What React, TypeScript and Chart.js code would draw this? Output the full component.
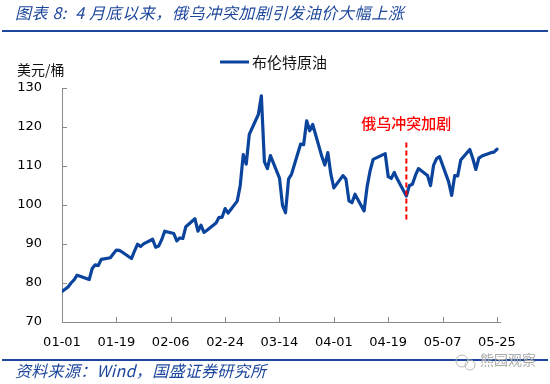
import React, { useEffect, useRef } from "react";
import { Chart, registerables } from "chart.js";

Chart.register(...registerables);

const YEAR = 2022;
const dates: string[] = [
  "01-01","01-03","01-04","01-05","01-06","01-07","01-10","01-11","01-12","01-13","01-14",
  "01-17","01-18","01-19","01-20","01-21","01-24","01-25","01-26","01-27","01-28","01-31",
  "02-01","02-02","02-03","02-04","02-07","02-08","02-09","02-10","02-11","02-14","02-15",
  "02-16","02-17","02-18","02-21","02-22","02-23","02-24","02-25","02-28","03-01","03-02",
  "03-03","03-04","03-07","03-08","03-09","03-10","03-11","03-14","03-15","03-16","03-17",
  "03-18","03-21","03-22","03-23","03-24","03-25","03-28","03-29","03-30","03-31","04-01",
  "04-04","04-05","04-06","04-07","04-08","04-11","04-12","04-13","04-14","04-18","04-19",
  "04-20","04-21","04-22","04-25","04-26","04-27","04-28","04-29","05-02","05-03","05-04",
  "05-05","05-06","05-09","05-10","05-11","05-12","05-13","05-16","05-17","05-18","05-19",
  "05-20","05-23","05-24","05-25",
];
const brent: number[] = [
  77.8, 78.98, 80.0, 80.8, 81.99, 81.75, 80.87, 83.72, 84.67, 84.47, 86.06,
  86.48, 87.51, 88.44, 88.38, 87.89, 86.27, 88.2, 89.96, 89.34, 90.03, 91.21,
  89.16, 89.47, 91.11, 93.27, 92.69, 90.78, 91.55, 91.41, 94.44, 96.48, 93.28,
  94.81, 92.97, 93.54, 95.39, 96.84, 96.84, 99.08, 97.93, 100.99, 104.97, 112.93,
  110.46, 118.11, 123.21, 127.98, 111.14, 109.33, 112.67, 106.9, 99.91, 98.02, 106.64,
  107.93, 115.62, 115.48, 121.6, 119.03, 120.65, 112.48, 110.23, 113.45, 107.91, 104.39,
  107.53, 106.64, 101.07, 100.58, 102.78, 98.48, 104.64, 108.78, 111.7, 113.16, 107.25,
  106.8, 108.33, 106.65, 102.32, 104.99, 105.32, 107.59, 109.34, 107.58, 104.97, 110.14,
  111.9, 112.39, 105.94, 102.46, 107.51, 107.45, 111.55, 114.24, 111.93, 109.11, 112.04,
  112.55, 113.42, 113.56, 114.3,
];
const xTickLabels: string[] = ["01-01","01-19","02-06","02-24","03-14","04-01","04-19","05-07","05-25"];
const yTicks: number[] = [70, 80, 90, 100, 110, 120, 130];
const xEndDate = "05-26";
const annotationDate = "04-25";
const annotationRange: number[] = [96, 116];
const annotationTextValue = 121;

const TITLE = "图表 8:  4 月底以来，俄乌冲突加剧引发油价大幅上涨";
const SERIES = "布伦特原油";
const UNIT = "美元/桶";
const ANNOT = "俄乌冲突加剧";
const SOURCE = "资料来源：Wind，国盛证券研究所";
const WATERMARK = "熊园观察";

const dayOf = (md: string) => {
  const [m, d] = md.split("-").map(Number);
  return (Date.UTC(YEAR, m - 1, d) - Date.UTC(YEAR, 0, 1)) / 86400000;
};

const LINE = "#0b449c";
const DARKBLUE = "#1d479c";
const AXIS = "#8a8a8a";
const CJK = "'Noto Sans CJK SC', sans-serif";
const NUM = "'DejaVu Sans', sans-serif";

export default function App() {
  const ref = useRef<HTMLCanvasElement | null>(null);
  useEffect(() => {
    if (!ref.current) return;
    const tickVals = xTickLabels.map(dayOf);
    const deco = {
      id: "deco",
      afterDraw(chart: any) {
        const ctx = chart.ctx as any;
        const xs = chart.scales.x;
        const ys = chart.scales.y;
        const ca = chart.chartArea;
        ctx.save();
        // inner tick marks
        ctx.strokeStyle = AXIS;
        ctx.lineWidth = 1;
        ctx.beginPath();
        tickVals.forEach((v) => {
          const px = Math.round(xs.getPixelForValue(v)) + 0.5;
          ctx.moveTo(px, ca.bottom);
          ctx.lineTo(px, ca.bottom - 5);
        });
        yTicks.forEach((v) => {
          const py = Math.round(ys.getPixelForValue(v)) + 0.5;
          ctx.moveTo(ca.left, py);
          ctx.lineTo(ca.left + 5, py);
        });
        ctx.stroke();
        // title
        ctx.fillStyle = DARKBLUE;
        ctx.font = `italic 16px ${CJK}`;
        ctx.textBaseline = "middle";
        ctx.textAlign = "left";
        ctx.letterSpacing = "0.6px";
        ctx.fillText(TITLE, 15, 13);
        // source
        ctx.font = `italic 16px ${CJK}`;
        ctx.letterSpacing = "0.3px";
        ctx.fillText(SOURCE, 15, 371);
        ctx.letterSpacing = "0px";
        // rules
        ctx.fillRect(2, 30, 546, 2);
        ctx.fillRect(2, 359, 546, 2);
        // watermark
        ctx.strokeStyle = "#b8b8b8";
        ctx.lineWidth = 1;
        ctx.beginPath();
        ctx.arc(462, 361, 6, 0, Math.PI * 2);
        ctx.stroke();
        ctx.beginPath();
        ctx.arc(470, 365, 5, 0, Math.PI * 2);
        ctx.stroke();
        ctx.fillStyle = "#a8a8a8";
        ctx.font = `14px ${CJK}`;
        ctx.fillText(WATERMARK, 480, 360);
        // legend
        ctx.strokeStyle = LINE;
        ctx.lineWidth = 3;
        ctx.beginPath();
        ctx.moveTo(220, 62);
        ctx.lineTo(249, 62);
        ctx.stroke();
        ctx.fillStyle = "#111";
        ctx.font = `15px ${CJK}`;
        ctx.fillText(SERIES, 252, 62);
        // unit
        ctx.font = `14px ${CJK}`;
        ctx.fillText(UNIT, 17, 70);
        // annotation
        const ax = xs.getPixelForValue(dayOf(annotationDate));
        ctx.strokeStyle = "#ff0000";
        ctx.lineWidth = 2;
        ctx.setLineDash([5, 3]);
        ctx.beginPath();
        ctx.moveTo(ax, ys.getPixelForValue(annotationRange[1]));
        ctx.lineTo(ax, ys.getPixelForValue(annotationRange[0]));
        ctx.stroke();
        ctx.setLineDash([]);
        ctx.fillStyle = "#ff0000";
        ctx.font = `500 15px ${CJK}`;
        ctx.textAlign = "center";
        ctx.fillText(ANNOT, ax, ys.getPixelForValue(annotationTextValue));
        ctx.restore();
      },
    };
    const chart = new Chart(ref.current, {
      type: "line",
      data: {
        datasets: [
          {
            label: SERIES,
            data: dates.map((d, i) => ({ x: dayOf(d), y: brent[i] })),
            borderColor: LINE,
            borderWidth: 3.2,
            pointRadius: 0,
            tension: 0,
            borderJoinStyle: "round",
            borderCapStyle: "round",
          },
        ],
      },
      options: {
        animation: false,
        responsive: false,
        events: [],
        layout: { padding: { top: 88, right: 50, left: 0, bottom: 0 } },
        plugins: { legend: { display: false }, tooltip: { enabled: false }, title: { display: false } },
        scales: {
          x: {
            type: "linear",
            min: 0,
            max: dayOf(xEndDate),
            afterBuildTicks: (s: any) => {
              s.ticks = tickVals.map((v) => ({ value: v }));
            },
            afterFit: (s: any) => {
              s.height = 62;
            },
            grid: { display: true, drawOnChartArea: false, drawTicks: false },
            border: { display: true, color: AXIS, width: 1 },
            ticks: {
              padding: 13,
              color: "#000",
              font: { family: NUM, size: 13 },
              maxRotation: 0,
              autoSkip: false,
              callback: (v: any) => {
                const i = tickVals.indexOf(Number(v));
                return i >= 0 ? xTickLabels[i] : "";
              },
            },
          },
          y: {
            min: 70,
            max: 130,
            afterBuildTicks: (s: any) => {
              s.ticks = yTicks.map((v) => ({ value: v }));
            },
            afterFit: (s: any) => {
              s.width = 62;
            },
            grid: { display: true, drawOnChartArea: false, drawTicks: false },
            border: { display: true, color: AXIS, width: 1 },
            ticks: {
              padding: 20,
              color: "#000",
              font: { family: NUM, size: 13 },
            },
          },
        },
      },
      plugins: [deco],
    } as any);
    return () => chart.destroy();
  }, []);
  return (
    <div style={{ position: "fixed", left: 0, top: 0, width: 550, height: 384, background: "#fff" }}>
      <canvas ref={ref} width={550} height={384} style={{ display: "block" }} />
    </div>
  );
}
